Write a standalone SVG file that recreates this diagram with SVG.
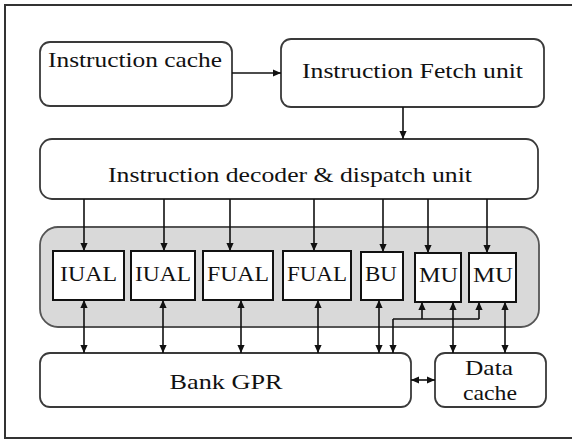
<svg xmlns="http://www.w3.org/2000/svg" width="572" height="441" viewBox="0 0 572 441">
<defs>
<marker id="ah" viewBox="0 0 10 10" refX="10" refY="5" markerWidth="8" markerHeight="8" markerUnits="userSpaceOnUse" orient="auto-start-reverse">
<path d="M0,0.5 L10,5 L0,9.5 z" fill="#111"/>
</marker>
<style>
.box{fill:#fff;stroke:#3a3a3a;stroke-width:1.8}
.unit{fill:#fff;stroke:#111;stroke-width:2}
.grp{fill:#d9d9d9;stroke:#555;stroke-width:1.8}
.t{font-size:22px;fill:#111}
.c{text-anchor:middle}
.ln{fill:none;stroke:#111;stroke-width:1.6}
.one{marker-end:url(#ah)}
.two{marker-start:url(#ah);marker-end:url(#ah)}
</style>
</defs>
<rect x="0" y="0" width="572" height="441" fill="#fff"/>
<path d="M580,5 H5 V438 H580" fill="none" stroke="#333" stroke-width="2"/>
<g font-family="'Liberation Serif', Tinos, 'Nimbus Roman', serif">
<g id="instruction-cache">
<rect class="box" x="40" y="42" width="192" height="64" rx="10"/>
<text class="t" x="48" y="67" textLength="174" lengthAdjust="spacingAndGlyphs">Instruction cache</text>
</g>
<g id="fetch-unit">
<rect class="box" x="281" y="39" width="263" height="68" rx="10"/>
<text class="t c" x="412.5" y="78" textLength="221" lengthAdjust="spacingAndGlyphs">Instruction Fetch unit</text>
</g>
<g id="decoder">
<rect class="box" x="40" y="139" width="498" height="60" rx="12"/>
<text class="t c" x="290" y="182" textLength="364" lengthAdjust="spacingAndGlyphs">Instruction decoder &amp; dispatch unit</text>
</g>
<g id="exec-group">
<rect class="grp" x="40" y="227" width="499" height="100" rx="18"/>
</g>
<g id="iual1">
<rect class="unit" x="53" y="251" width="71" height="49"/>
<text class="t c" x="88.5" y="281" textLength="57" lengthAdjust="spacingAndGlyphs">IUAL</text>
</g>
<g id="iual2">
<rect class="unit" x="131" y="251" width="64" height="49"/>
<text class="t c" x="163" y="281" textLength="56" lengthAdjust="spacingAndGlyphs">IUAL</text>
</g>
<g id="fual1">
<rect class="unit" x="203" y="251" width="70" height="49"/>
<text class="t c" x="238" y="281" textLength="62" lengthAdjust="spacingAndGlyphs">FUAL</text>
</g>
<g id="fual2">
<rect class="unit" x="283" y="251" width="68" height="49"/>
<text class="t c" x="317" y="281" textLength="60" lengthAdjust="spacingAndGlyphs">FUAL</text>
</g>
<g id="bu">
<rect class="unit" x="361" y="252" width="42" height="48"/>
<text class="t c" x="381" y="281" textLength="32" lengthAdjust="spacingAndGlyphs">BU</text>
</g>
<g id="mu1">
<rect class="unit" x="415" y="253" width="46" height="49"/>
<text class="t c" x="438.5" y="282" textLength="39" lengthAdjust="spacingAndGlyphs">MU</text>
</g>
<g id="mu2">
<rect class="unit" x="469" y="253" width="47" height="49"/>
<text class="t c" x="493" y="282" textLength="40" lengthAdjust="spacingAndGlyphs">MU</text>
</g>
<g id="bank-gpr">
<rect class="box" x="40" y="353" width="371" height="54" rx="10"/>
<text class="t c" x="226" y="389" textLength="113" lengthAdjust="spacingAndGlyphs">Bank GPR</text>
</g>
<g id="data-cache">
<rect class="box" x="435" y="353" width="111" height="54" rx="10"/>
<text class="t c" x="489" y="375" textLength="48" lengthAdjust="spacingAndGlyphs">Data</text>
<text class="t c" x="490" y="400" textLength="54" lengthAdjust="spacingAndGlyphs">cache</text>
</g>
</g>
<g id="connectors">
<line class="ln one" x1="232" y1="73" x2="281" y2="73"/>
<line class="ln one" x1="403" y1="107" x2="403" y2="139"/>
<line class="ln one" x1="84" y1="199" x2="84" y2="251"/>
<line class="ln one" x1="164" y1="199" x2="164" y2="251"/>
<line class="ln one" x1="230" y1="199" x2="230" y2="251"/>
<line class="ln one" x1="314" y1="199" x2="314" y2="251"/>
<line class="ln one" x1="383" y1="199" x2="383" y2="252"/>
<line class="ln one" x1="428" y1="199" x2="428" y2="253"/>
<line class="ln one" x1="487" y1="199" x2="487" y2="253"/>
<line class="ln two" x1="84" y1="300" x2="84" y2="353"/>
<line class="ln two" x1="163" y1="300" x2="163" y2="353"/>
<line class="ln two" x1="241" y1="300" x2="241" y2="353"/>
<line class="ln two" x1="318" y1="300" x2="318" y2="353"/>
<line class="ln two" x1="379" y1="300" x2="379" y2="353"/>
<path class="ln one" d="M393,319 V353"/>
<path class="ln" d="M393,319 H479"/>
<line class="ln one" x1="422" y1="319" x2="422" y2="302"/>
<line class="ln one" x1="479" y1="319" x2="479" y2="302"/>
<line class="ln two" x1="453" y1="302" x2="453" y2="353"/>
<line class="ln two" x1="505" y1="302" x2="505" y2="353"/>
<line class="ln two" x1="411" y1="380" x2="435" y2="380"/>
</g>
</svg>
